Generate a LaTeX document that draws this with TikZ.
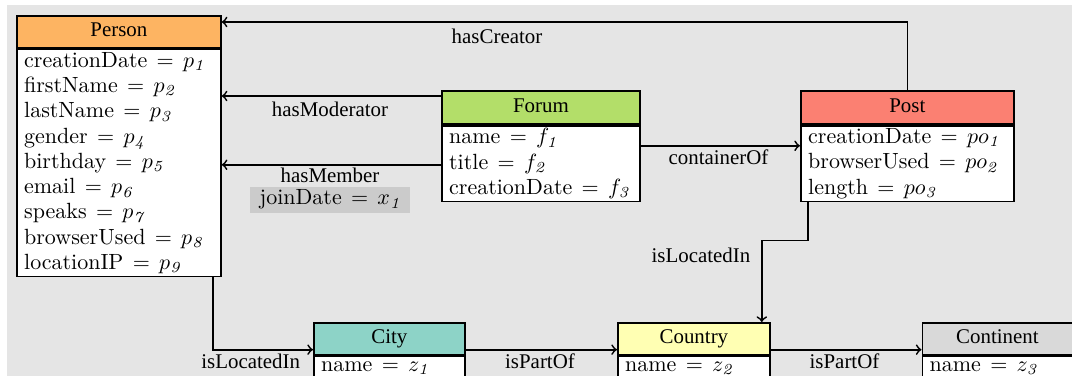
\documentclass[tikz,border=0pt]{standalone}
\usepackage{fontspec}
\usetikzlibrary{positioning,calc}
\newfontfamily\timesfont{Liberation Serif}
\newcommand\hdrfont{\timesfont\fontsize{9.5}{11}\selectfont}
\newcommand\attrfont{\fontsize{10}{11.48}\selectfont}
\newcommand\eqs{\kern0.9pt$=$\kern0.9pt}
\definecolor{personcol}{HTML}{FDB462}
\definecolor{forumcol}{HTML}{B3DE69}
\definecolor{postcol}{HTML}{FB8072}
\definecolor{citycol}{HTML}{8DD3C7}
\definecolor{countrycol}{HTML}{FFFFB3}
\definecolor{continentcol}{HTML}{D9D9D9}
\definecolor{bgcol}{HTML}{E5E5E5}
\definecolor{joincol}{HTML}{CBCBCB}
\tikzset{
  entity/.style={draw, thick, font=\hdrfont, inner sep=0pt, text height=6.5pt, text depth=2pt, anchor=north west},
  attrs/.style={draw, thick, fill=white, font=\attrfont, align=left, inner xsep=3.3pt, inner ysep=0.5pt, anchor=north west},
  lowattrs/.style={attrs, inner ysep=0pt, text height=6.7pt, text depth=2.4pt},
  rel/.style={font=\hdrfont, inner sep=0pt},
  joinbox/.style={fill=joincol, font=\attrfont, minimum width=72.7pt, minimum height=11.8pt, inner sep=0pt},
  link/.style={->, thick}
}
\begin{document}
\begin{tikzpicture}[x=0.4545pt,y=-0.4545pt]
\useasboundingbox (0,0) rectangle (1072,376);
\fill[bgcol] (7,5) rectangle (1072,376);

% entities
\node[entity, fill=personcol, minimum width=92.7pt, minimum height=14.5pt] (person) at (16,15) {Person};
\node[attrs, text width=86.1pt, minimum height=103.2pt] (personAttr) at (person.south west) {creationDate \eqs{} $p_{\mathit{1}}$\\
firstName \eqs{} $p_{\mathit{2}}$\\
lastName \eqs{} $p_{\mathit{3}}$\\
gender \eqs{} $p_{\mathit{4}}$\\
birthday \eqs{} $p_{\mathit{5}}$\\
email \eqs{} $p_{\mathit{6}}$\\
speaks \eqs{} $p_{\mathit{7}}$\\
browserUsed \eqs{} $p_{\mathit{8}}$\\
locationIP \eqs{} $p_{\mathit{9}}$};

\node[entity, fill=forumcol, minimum width=90pt, minimum height=15pt] (forum) at (441,90) {Forum};
\node[attrs, text width=83.4pt, minimum height=34.5pt] (forumAttr) at (forum.south west) {name \eqs{} $f_{\mathit{1}}$\\
title \eqs{} $f_{\mathit{2}}$\\
creationDate \eqs{} $f_{\mathit{3}}$};

\node[entity, fill=postcol, minimum width=96.8pt, minimum height=15pt] (post) at (800,90) {Post};
\node[attrs, text width=90.2pt, minimum height=34.5pt] (postAttr) at (post.south west) {creationDate \eqs{} $po_{\mathit{1}}$\\
browserUsed \eqs{} $po_{\mathit{2}}$\\
length \eqs{} $po_{\mathit{3}}$};

\node[entity, fill=citycol, minimum width=68.6pt, minimum height=14.5pt] (city) at (313,322) {City};
\node[lowattrs, text width=62pt] (cityAttr) at (city.south west) {name \eqs{} $z_{\mathit{1}}$};

\node[entity, fill=countrycol, minimum width=69.1pt, minimum height=14.5pt] (country) at (617,322) {Country};
\node[lowattrs, text width=62.5pt] (countryAttr) at (country.south west) {name \eqs{} $z_{\mathit{2}}$};

\node[entity, fill=continentcol, minimum width=68.2pt, minimum height=14.5pt] (continent) at (921.5,322) {Continent};
\node[lowattrs, text width=61.6pt] (continentAttr) at (continent.south west) {name \eqs{} $z_{\mathit{3}}$};

% relations
\draw[link] (post.north) |- ($(person.north east)+(0,7)$);
\coordinate (modStart) at ($(forum.north west)+(0,6)$);
\draw[link] (modStart) -- (modStart -| person.east);
\coordinate (memStart) at ($(forumAttr.north west)+(0,40)$);
\draw[link] (memStart) -- (memStart -| person.east);
\coordinate (contStart) at ($(forumAttr.north east)+(0,21)$);
\draw[link] (contStart) -- (contStart -| post.west);
\coordinate (postLoc) at ($(postAttr.south west)+(8,0)$);
\draw[link] (postLoc) -- ++(0,38) -| ($(country.north east)+(-9,0)$);
\coordinate (personLoc) at ($(personAttr.south east)+(-9,0)$);
\draw[link] (personLoc) |- ($(city.south west)+(0,-6)$);
\coordinate (cityOut) at ($(city.south east)+(0,-6)$);
\draw[link] (cityOut) -- (cityOut -| country.west);
\coordinate (countryOut) at ($(country.south east)+(0,-6)$);
\draw[link] (countryOut) -- (countryOut -| continent.west);

% labels
\node[rel] (lblCreator) at (497,36) {hasCreator};
\node[rel] (lblModerator) at (330,109) {hasModerator};
\node[rel] (lblMember) at (330,175) {hasMember};
\node[joinbox] (lblJoin) at (330,199.7) {joinDate \eqs{} $x_{\mathit{1}}$};
\node[rel] (lblContainer) at (718.5,157) {containerOf};
\node[rel] (lblPostLoc) at (701,255) {isLocatedIn};
\node[rel] (lblPersonLoc) at (250.7,361) {isLocatedIn};
\node[rel] (lblCityPart) at (540,361) {isPartOf};
\node[rel] (lblCountryPart) at (844.5,361) {isPartOf};
\end{tikzpicture}
\end{document}
